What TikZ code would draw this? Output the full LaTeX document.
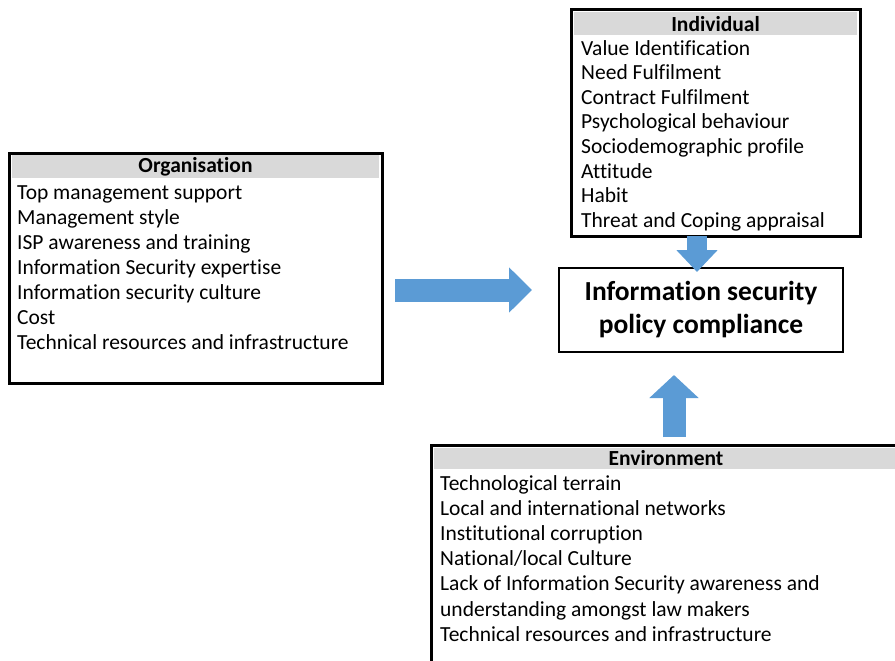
\documentclass[tikz,border=0pt]{standalone}
\usepackage{fontspec}
\setmainfont{Carlito}[Ligatures=NoCommon]
\usetikzlibrary{arrows.meta,positioning}
\definecolor{arrowblue}{HTML}{5B9BD5}
\definecolor{bandgray}{HTML}{D9D9D9}
\newcommand{\factorfont}{\fontsize{21.5}{25}\selectfont}
\newcommand{\goalfont}{\fontsize{27.5}{33}\selectfont}
\tikzset{
  factorbox/.style={draw, line width=3pt, anchor=north west, inner sep=0pt},
  headband/.style={fill=bandgray, anchor=north, inner sep=0pt, minimum height=23pt, font=\factorfont\bfseries},
  itemlist/.style={align=left, anchor=north west, inner sep=0pt, font=\factorfont},
  goalbox/.style={draw, line width=1.5pt, align=center, minimum width=284pt, minimum height=84pt, font=\goalfont\bfseries},
  blockarrow/.style={arrowblue, line width=23pt, -{Triangle[length=23pt, width=44pt]}}
}

\begin{document}
\begin{tikzpicture}[x=1pt, y=-1pt]
  \useasboundingbox (0,0) rectangle (895,661);

  % organisation factors
  \node[factorbox, minimum width=373pt, minimum height=230pt] (org) at (7.5,151.5) {};
  \node[headband, minimum width=367pt] (orghead) at ([yshift=-3.5pt]org.north) {Organisation};
  \node[itemlist] (orglist) at (17,186) {Top management support\\Management style\\ISP awareness and training\\Information Security expertise\\Information security culture\\Cost\\Technical resources and infrastructure};

  % individual factors
  \node[factorbox, minimum width=289pt, minimum height=226pt] (ind) at (569.5,8.5) {};
  \node[headband, minimum width=283pt] (indhead) at ([yshift=-3.5pt]ind.north) {Individual};
  \node[itemlist, font=\fontsize{21.5}{24.6}\selectfont] (indlist) at (581,40) {Value Identification\\Need Fulfilment\\Contract Fulfilment\\Psychological behaviour\\Sociodemographic profile\\Attitude\\Habit\\Threat and Coping appraisal};

  % environment factors
  \node[factorbox, minimum width=470pt, minimum height=222pt] (env) at (429.5,443.5) {};
  \node[headband, minimum width=464pt, minimum height=21pt] (envhead) at ([yshift=-4pt]env.north) {Environment};
  \node[itemlist, font=\fontsize{21.5}{25.2}\selectfont] (envlist) at (440,475) {Technological terrain\\Local and international networks\\Institutional corruption\\National/local Culture\\Lack of Information Security awareness and\\understanding amongst law makers\\Technical resources and infrastructure};

  % outcome
  \node[goalbox] (goal) at (701,310) {Information security\\policy compliance};

  % block arrows
  \coordinate (orgtail) at (395,290);
  \coordinate (orgtip) at (532,290);
  \coordinate (indtail) at (697,236);
  \coordinate (indtip) at (697,272);
  \coordinate (envtail) at (674,437);
  \coordinate (envtip) at (674,375);
  \draw[blockarrow] (orgtail) -- (orgtip);
  \draw[blockarrow, line width=20pt, -{Triangle[length=22pt, width=40pt]}] (indtail) -- (indtip);
  \draw[blockarrow, -{Triangle[length=23pt, width=48pt]}] (envtail) -- (envtip);
\end{tikzpicture}
\end{document}
